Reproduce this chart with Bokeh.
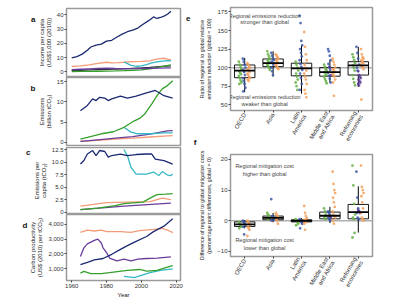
import math
from bokeh.plotting import figure
from bokeh.models import Range1d, FixedTicker, NumeralTickFormatter, Label, LinearAxis
from bokeh.layouts import row, column
from bokeh.embed import file_html
from bokeh.resources import INLINE

FONT = "Liberation Sans"

# ---------------- data: panels a-d ----------------
inc_years_oecd = [1960,1963,1966,1969,1971,1974,1977,1980,1983,1986,1989,1992,1995,1998,2001,2004,2007,2009,2011,2013,2015,2017]
inc_oecd = [9.8,10.8,12.5,15.2,17.5,18.8,19.5,21.6,22.2,24.5,26.5,28.2,29.3,30.8,33.5,35.8,38.6,37.5,38.2,39.2,40.5,42.6]
inc_years_latam = [1960,1965,1970,1975,1980,1983,1987,1990,1995,2000,2005,2008,2011,2013,2015,2017]
inc_latam = [3.8,4.2,5.0,6.0,6.8,6.4,6.6,6.8,7.2,7.4,7.8,8.8,9.4,9.6,9.0,8.4]
inc_years_ref = [1990,1992,1994,1996,1998,2000,2003,2006,2009,2012,2015,2017]
inc_ref = [7.0,5.8,4.6,4.2,4.0,4.3,5.2,6.4,7.0,7.6,8.0,7.8]
inc_years_other = [1960,1965,1970,1975,1980,1985,1990,1995,2000,2005,2010,2017]
inc_mea = [1.6,1.9,2.2,2.5,2.6,2.4,2.3,2.3,2.4,2.5,2.7,2.8]
inc_asia = [0.3,0.35,0.4,0.5,0.6,0.7,0.9,1.2,1.5,2.2,3.3,5.0]
inc_dark = [1.0,1.2,1.4,1.6,1.8,2.0,2.2,2.5,2.8,3.2,3.7,4.3]

em_years_oecd = [1965,1969,1972,1974,1976,1979,1981,1983,1988,1992,1997,2003,2008,2010,2013,2018]
em_oecd = [7.8,9.1,10.7,10.3,11.1,10.9,10.3,10.7,11.4,10.9,11.4,12.2,12.8,12.3,11.5,10.9]
em_years_asia = [1965,1969,1977,1984,1990,1996,1999,2002,2006,2009,2012,2015,2018]
em_asia = [0.8,1.2,2.1,2.6,3.7,5.3,5.9,7.0,9.5,11.5,13.2,14.0,15.2]
em_years_ref = [1990,1994,1998,2005,2013,2018]
em_ref = [3.7,2.5,2.1,2.1,2.3,2.3]
em_years_other = [1965,1975,1985,1995,2005,2015,2018]
em_mea = [0.2,0.6,1.0,1.4,2.0,2.8,2.9]
em_latam = [0.2,0.5,0.8,1.0,1.3,1.6,1.65]

pc_years_oecd = [1965,1967,1969,1972,1974,1976,1979,1981,1983,1988,1992,1997,2003,2006,2008,2013,2018]
pc_oecd = [9.6,10.3,11.6,12.3,11.3,12.3,12.1,11.0,11.3,11.6,11.3,11.5,11.6,11.6,10.6,10.3,9.6]
pc_years_ref = [1990,1992,1994,1997,2003,2007,2010,2012,2015,2017,2018]
pc_ref = [12.5,11.3,9.0,7.6,7.6,8.0,7.3,8.1,7.4,7.3,7.6]
pc_years_asia = [1965,1975,1985,1990,2001,2005,2009,2014,2018]
pc_asia = [0.5,0.8,1.3,1.7,2.0,2.8,3.5,3.6,3.7]
pc_years_latam = [1965,1980,1992,2005,2012,2017]
pc_latam = [1.2,1.9,2.0,2.1,2.8,2.5]
pc_years_mea = [1965,1990,2017]
pc_mea = [0.5,1.2,1.8]

cp_years_oecd = [1965,1969,1973,1978,1983,1988,1992,1997,2003,2007,2013,2017,2018]
cp_oecd = [1283,1435,1609,1696,1978,2304,2565,2848,3174,3500,3870,4261,4370]
cp_years_latam = [1965,1969,1973,1977,1980,1988,1994,1999,2007,2012,2015,2018]
cp_latam = [3457,3609,3543,3609,3500,3500,3457,3565,3652,3717,3609,3435]
cp_years_mea = [1965,1967,1969,1973,1975,1977,1978,1980,1982,1986,1990,1994,1998,2003,2009,2017]
cp_mea = [1826,2413,2674,2913,3000,2739,2413,2087,1696,1543,1652,1543,1652,1696,1717,1804]
cp_years_asia = [1965,1967,1971,1977,1984,1992,1999,2003,2009,2015,2018]
cp_asia = [717,826,674,674,783,891,957,848,891,1109,1217]
cp_years_ref = [1990,1996,1999,2005,2011,2018]
cp_ref = [500,413,522,739,891,1000]

# ---------------- data: panels e-f ----------------
regions = ["OECD", "Asia", "Latin\nAmerica", "Middle East\nand Africa", "Reforming\neconomies"]

e_lower = [67, 88, 65, 80, 74]
e_q1 = [86.5, 101.4, 89, 88.5, 90]
e_med = [96, 106, 99, 94, 103]
e_q3 = [103.6, 111.7, 106, 100, 108]
e_upper = [113, 122, 130, 110, 128]

e_green = [
    [108,104,101,98,95,93,91,89,86,83,80,78],
    [122,118,115,112,110,108,106,104,102,100,97],
    [108,104,100,96,92,88,84,80,75,70],
    [104,101,98,96,94,92,90,88,85,82,79],
    [118,114,110,106,103,100,96,90,85,80,76],
]
e_blue = [
    [112,108,104,100,97,94,90,86,82,78,73,68],
    [120,116,112,110,108,106,104,100,95,90],
    [170,160,136,130,125,120,115,110,105,101,97,92,86,78,70],
    [125,122,116,110,105,101,97,93,89,85,80],
    [128,120,112,104,100,96],
]
e_purple = [[], [], [], [100, 90], [95,90,88,86,84,82,80,78,76]]
e_orange = [
    [106,104,102,100,98,96,94,92,90,88,86,84,82],
    [118,116,114,112,110,108,106,104,102,100,98],
    [148,128,118,110,104,100,96,92,88,84,78,70,65,60],
    [112,108,104,100,98,96,94,92,90,88,84,80,62],
    [125,118,114,112,110,108,106,104,102,100,98,57],
]

f_lower = [-2.5, -0.5, -1.0, -0.8, -3.9]
f_q1 = [-1.9, 0.3, -0.4, 0.6, 0.6]
f_med = [-1.2, 0.9, -0.1, 1.6, 2.8]
f_q3 = [-0.4, 1.5, 0.3, 2.8, 5.3]
f_upper = [0.2, 2.5, 0.8, 4.5, 11.2]

f_green = [
    [-0.5,-1.0,-1.5,-2.0,-2.5],
    [2.5,2.0,1.5,1.0,0.5],
    [0.5,0.0,-0.5,-1.0,-1.5],
    [4.0,3.0,2.0,1.5,1.0,0.5],
    [18.0,11.5,5.5,2.0,1.0,0.5,-4.0,-5.5],
]
f_blue = [
    [0.0,-0.5,-1.0,-1.5,-2.0,-4.5],
    [7.0,1.5,1.0,0.5,0.0],
    [0.5,0.0,-0.5,-1.0,-2.5],
    [3.0,2.5,2.0,1.5,1.0,0.5,0.0],
    [16.0,7.5,4.0,3.0,2.5,1.0,0.5],
]
f_purple = [[], [], [], [1.5, 1.0], [3.5, 3.0, 2.5]]
f_orange = [
    [0.0,-0.5,-1.0,-1.5,-2.0,-2.5,-3.0,-5.0],
    [2.5,2.0,1.5,1.0,0.5,0.0,-1.0],
    [4.8,2.5,1.5,0.8,0.3,0.0,-0.5,-1.0,-3.0],
    [16.0,12.0,10.0,9.0,7.5,6.0,4.5,3.0,2.0,1.5,1.0,0.0,-1.0],
    [18.0,11.0,10.0,9.0,8.0,6.0,4.0,2.5,1.0,0.5,0.0],
]

# ---------------- styles ----------------
C_NAVY = "#1c2a72"
C_GREEN = "#36a02c"
C_ORANGE = "#f39c78"
C_PURPLE = "#6a3d9a"
C_TEAL = "#35b8c4"
C_DARK = "#2e2e40"
P_GREEN = "#66b045"
P_BLUE = "#3d5aa8"
P_PURPLE = "#5b3a96"
P_ORANGE = "#f5a05a"


def style(p, label_size="6px"):
    p.outline_line_color = "#9a9a9a"
    p.outline_line_width = 1.5
    p.xgrid.visible = False
    p.ygrid.visible = False
    for ax in p.axis:
        ax.axis_line_color = None
        ax.major_tick_in = 0
        ax.major_tick_out = 2
        ax.minor_tick_line_color = None
        ax.major_tick_line_color = "#444444"
        ax.major_label_text_font = FONT
        ax.major_label_text_font_size = "6px"
        ax.major_label_text_color = "#333333"
        ax.major_label_standoff = 1
        ax.axis_label_text_font = FONT
        ax.axis_label_text_font_size = label_size
        ax.axis_label_text_font_style = "normal"
        ax.axis_label_text_color = "#222222"
        ax.axis_label_standoff = 2


def letter(p, txt, align="end"):
    # panel letter as the (horizontal) label of a tick-less extra axis
    ax = LinearAxis(axis_label=txt, ticker=FixedTicker(ticks=[]),
                    axis_line_color=None, major_tick_line_color=None,
                    minor_tick_line_color=None, major_label_text_font_size="0px",
                    axis_label_text_font=FONT, axis_label_text_font_size="8px",
                    axis_label_text_font_style="bold", axis_label_text_color="#111111",
                    axis_label_standoff=0)
    try:
        ax.axis_label_orientation = "horizontal"
    except Exception:
        pass
    try:
        ax.axis_label_align = align
    except Exception:
        pass
    p.add_layout(ax, "left")


def left_fig(height, yr, top, bottom, ticks, ylabel):
    p = figure(width=183, height=height, x_range=Range1d(1957, 2022.5),
               y_range=Range1d(*yr), output_backend="svg", toolbar_location=None,
               min_border_left=66, min_border_right=3,
               min_border_top=top, min_border_bottom=bottom)
    style(p)
    p.yaxis.ticker = FixedTicker(ticks=ticks)
    p.yaxis.axis_label = ylabel
    p.xaxis.ticker = FixedTicker(ticks=[1960, 1980, 2000, 2020])
    return p


LW = 1.3

pa = left_fig(77, (-3.2, 44.5), 8, 1, [0, 10, 20, 30, 40], "Income per capita\n(US$1,000 (2010))")
pa.xaxis.visible = False
pa.line(inc_years_other, inc_dark, color=C_DARK, line_width=LW)
pa.line(inc_years_other, inc_asia, color=C_GREEN, line_width=LW)
pa.line(inc_years_other, inc_mea, color=C_PURPLE, line_width=LW)
pa.line(inc_years_latam, inc_latam, color=C_ORANGE, line_width=LW)
pa.line(inc_years_ref, inc_ref, color=C_TEAL, line_width=LW)
pa.line(inc_years_oecd, inc_oecd, color=C_NAVY, line_width=LW)
letter(pa, "\n\na")

pb = left_fig(70, (-0.8, 16.0), 0, 2, [0, 5, 10, 15], "Emissions\n(billion tCO\u2082)")
pb.xaxis.visible = False
pb.line(em_years_other, em_latam, color=C_ORANGE, line_width=LW)
pb.line(em_years_other, em_mea, color=C_PURPLE, line_width=LW)
pb.line(em_years_ref, em_ref, color=C_TEAL, line_width=LW)
pb.line(em_years_asia, em_asia, color=C_GREEN, line_width=LW)
pb.line(em_years_oecd, em_oecd, color=C_NAVY, line_width=LW)
letter(pb, "\n\nb")

pc = left_fig(67, (-0.26, 12.9), 0, 1, [0, 2.5, 5, 7.5, 10, 12.5], "Emissions per\ncapita (tCO\u2082)")
pc.xaxis.visible = False
pc.yaxis.formatter = NumeralTickFormatter(format="0.0")
pc.yaxis.major_label_overrides = {0: "0"}
pc.line(pc_years_mea, pc_mea, color=C_PURPLE, line_width=LW)
pc.line(pc_years_latam, pc_latam, color=C_ORANGE, line_width=LW)
pc.line(pc_years_asia, pc_asia, color=C_GREEN, line_width=LW)
pc.line(pc_years_ref, pc_ref, color=C_TEAL, line_width=LW)
pc.line(pc_years_oecd, pc_oecd, color=C_NAVY, line_width=LW)
letter(pc, "\nc")

pd = left_fig(86, (217, 4652), 0, 18, [1000, 2000, 3000, 4000], "Carbon productivity\n(US$ (2010) per tCO\u2082)")
pd.yaxis.formatter = NumeralTickFormatter(format="0,0")
pd.xaxis.axis_label = "Year"
pd.xaxis.axis_label_standoff = 1
pd.line(cp_years_ref, cp_ref, color=C_TEAL, line_width=LW)
pd.line(cp_years_asia, cp_asia, color=C_GREEN, line_width=LW)
pd.line(cp_years_latam, cp_latam, color=C_ORANGE, line_width=LW)
pd.line(cp_years_mea, cp_mea, color=C_PURPLE, line_width=LW)
pd.line(cp_years_oecd, cp_oecd, color=C_NAVY, line_width=LW)
letter(pd, "\n\nd")


def right_fig(height, yr, top, bottom, ticks, ylabel):
    p = figure(width=217, height=height, x_range=Range1d(0.5, 5.5),
               y_range=Range1d(*yr), output_backend="svg", toolbar_location=None,
               min_border_left=36, min_border_right=28,
               min_border_top=top, min_border_bottom=bottom)
    style(p, "5.3px")
    p.yaxis.ticker = FixedTicker(ticks=ticks)
    p.yaxis.axis_label = ylabel
    p.xaxis.ticker = FixedTicker(ticks=[1, 2, 3, 4, 5])
    p.xaxis.major_label_overrides = {i + 1: r for i, r in enumerate(regions)}
    p.xaxis.major_label_orientation = math.pi / 3
    return p


def boxes(p, lower, q1, med, q3, upper, groups):
    xs = [i + 1 for i in range(len(regions))]
    p.segment(x0=xs, y0=lower, x1=xs, y1=q1, color="black", line_width=1)
    p.segment(x0=xs, y0=q3, x1=xs, y1=upper, color="black", line_width=1)
    p.vbar(x=xs, width=0.72, bottom=q1, top=q3, fill_color=None,
           line_color="black", line_width=0.9)
    for vals, off, col in groups:
        px, py = [], []
        for i, lst in enumerate(vals):
            for k, v in enumerate(lst):
                px.append(i + 1 + off + (((k * 37) % 7) - 3) * 0.015)
                py.append(v)
        p.scatter(px, py, size=2.8, color=col, alpha=0.85, line_color=None)
    p.segment(x0=[x - 0.36 for x in xs], y0=med, x1=[x + 0.36 for x in xs], y1=med,
              color="black", line_width=1.8)


pe = right_fig(150, (42.3, 181), 7, 40, [50, 75, 100, 125, 150, 175],
               "Ratio of regional to global relative\nemissions reduction (global = 100)")
pe.line([0.5, 5.5], [100, 100], color="#b0b0b0", line_width=1.5)
boxes(pe, e_lower, e_q1, e_med, e_q3, e_upper,
      [(e_green, -0.16, P_GREEN), (e_blue, -0.02, P_BLUE),
       (e_purple, 0.04, P_PURPLE), (e_orange, 0.14, P_ORANGE)])
for txt, y in [("Regional emissions reduction", 170), ("stronger than global", 161),
               ("Regional emissions reduction", 60.5), ("weaker than global", 51.5)]:
    pe.add_layout(Label(x=1.7, y=y, text=txt, text_font=FONT, text_font_size="5.5px",
                        text_align="center", text_baseline="middle", text_color="#444444"))
letter(pe, "\n\n\n\n\n\nf", "start")
letter(pe, "\n\ne")

pf = right_fig(150, (-11.7, 21.6), 4, 44, [-10, 0, 10, 20],
               "Difference of regional to global mitigation costs\n(percentage point differences, global = 0)")
pf.line([0.5, 5.5], [0, 0], color="#b0b0b0", line_width=1.5)
boxes(pf, f_lower, f_q1, f_med, f_q3, f_upper,
      [(f_green, -0.16, P_GREEN), (f_blue, -0.02, P_BLUE),
       (f_purple, 0.04, P_PURPLE), (f_orange, 0.14, P_ORANGE)])
for txt, y in [("Regional mitigation cost", 17.7), ("higher than global", 15.3),
               ("Regional mitigation cost", -6.4), ("lower than global", -8.8)]:
    pf.add_layout(Label(x=1.7, y=y, text=txt, text_font=FONT, text_font_size="5.5px",
                        text_align="center", text_baseline="middle", text_color="#444444"))

layout = row(column(pa, pb, pc, pd), column(pe, pf))
open("out.html", "w").write(file_html(layout, INLINE))
